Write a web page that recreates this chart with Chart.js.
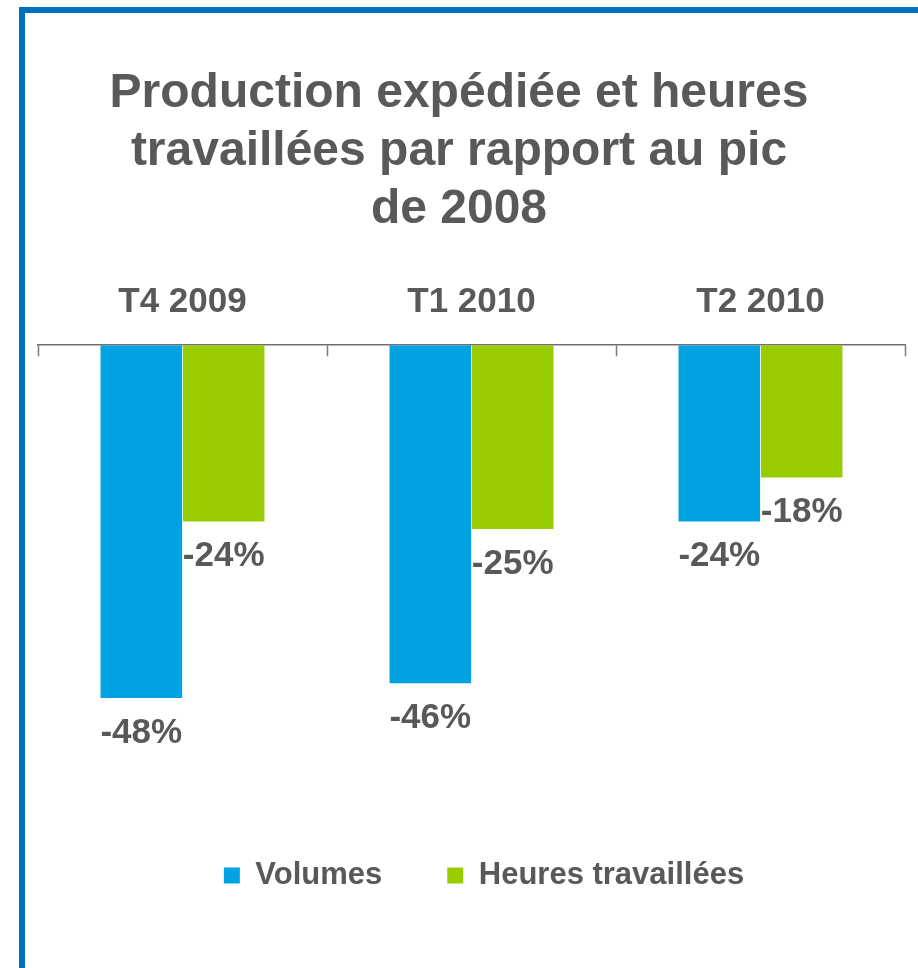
<!DOCTYPE html>
<html>
<head>
<meta charset="utf-8">
<script src="https://cdn.jsdelivr.net/npm/chart.js@4/dist/chart.umd.min.js"></script>
<style>
  html, body { margin: 0; padding: 0; background: #fff; }
  #frame {
    position: absolute; left: 19px; top: 7px; width: 1000px; height: 1000px;
    border-left: 6px solid #0070c0; border-top: 6px solid #0070c0;
  }
  #wrap { position: absolute; left: 0; top: 0; width: 918px; height: 968px; overflow: hidden; }
</style>
</head>
<body>
<div id="frame"></div>
<div id="wrap"><canvas id="chart"></canvas></div>
<script>
const quarters = ['T4 2009', 'T1 2010', 'T2 2010'];
const volumes = [-48, -46, -24];
const heures = [-24, -25, -18];
const seriesNames = ['Volumes', 'Heures travaillées'];

const grey = '#595959';
const font = 'Arial, "Liberation Sans", sans-serif';

// petits traits sous l'axe, aux limites des catégories
const tickMarks = {
    id: 'tickMarks',
    afterDraw(c) {
        const x = c.scales.x, top = c.chartArea.top, ctx = c.ctx;
        ctx.save();
        ctx.strokeStyle = '#7a7a7a';
        ctx.lineWidth = 1.5;
        for (let i = 0; i <= quarters.length; i++) {
            const px = Math.round(x.getPixelForValue(i - 0.5)) + 0.5;
            ctx.beginPath();
            ctx.moveTo(px, top);
            ctx.lineTo(px, top + 11);
            ctx.stroke();
        }
        ctx.restore();
    }
};

// étiquettes de valeurs sous chaque barre
const valueLabels = {
    id: 'valueLabels',
    afterDatasetsDraw(c) {
        const ctx = c.ctx;
        ctx.save();
        ctx.font = 'bold 35px ' + font;
        ctx.fillStyle = grey;
        ctx.textAlign = 'center';
        ctx.textBaseline = 'middle';
        c.data.datasets.forEach((ds, i) => {
            c.getDatasetMeta(i).data.forEach((bar, j) => {
                ctx.fillText(ds.data[j] + '%', bar.x, bar.y + 35);
            });
        });
        ctx.restore();
    }
};

// la légende est un peu décalée vers la droite dans l'original
const legendShift = {
    id: 'legendShift',
    afterLayout(c) {
        c.legend.left += 25;
        c.legend.right += 25;
    }
};

// axes invisibles qui réservent les marges gauche/droite (le titre reste centré sur la page)
const spacer = w => ({
    display: true,
    grid: { display: false },
    border: { display: false },
    ticks: { display: false },
    afterFit: s => { s.width = w; }
});

new Chart(document.getElementById('chart'), {
    type: 'bar',
    data: {
        labels: quarters,
        datasets: [
            { label: seriesNames[0], data: volumes, backgroundColor: '#00a2e1' },
            { label: seriesNames[1], data: heures, backgroundColor: '#99cc00' }
        ]
    },
    options: {
        responsive: true,
        maintainAspectRatio: false,
        animation: false,
        categoryPercentage: 0.57,
        barPercentage: 0.99,
        layout: { padding: { left: 0, right: 0, top: 0, bottom: 67 } },
        scales: {
            x: {
                position: 'top',
                grid: { display: false, drawTicks: false },
                border: { display: true, color: '#707070', width: 1.5 },
                ticks: { color: grey, font: { family: font, size: 35, weight: 'bold' }, padding: 22 }
            },
            y: Object.assign(spacer(38), { position: 'left', min: -61.2, max: 0 }),
            yRight: Object.assign(spacer(13), { position: 'right', min: -61.2, max: 0 })
        },
        plugins: {
            title: {
                display: true,
                text: ['Production expédiée et heures', 'travaillées par rapport au pic', 'de 2008'],
                color: grey,
                font: { family: font, size: 48, weight: 'bold', lineHeight: 1.21 },
                padding: { top: 65, bottom: 20 }
            },
            legend: {
                position: 'bottom',
                labels: {
                    color: grey,
                    font: { family: font, size: 31, weight: 'bold' },
                    boxWidth: 16,
                    boxHeight: 16,
                    padding: 65
                }
            },
            tooltip: { enabled: false }
        }
    },
    plugins: [tickMarks, valueLabels, legendShift]
});
</script>
</body>
</html>
